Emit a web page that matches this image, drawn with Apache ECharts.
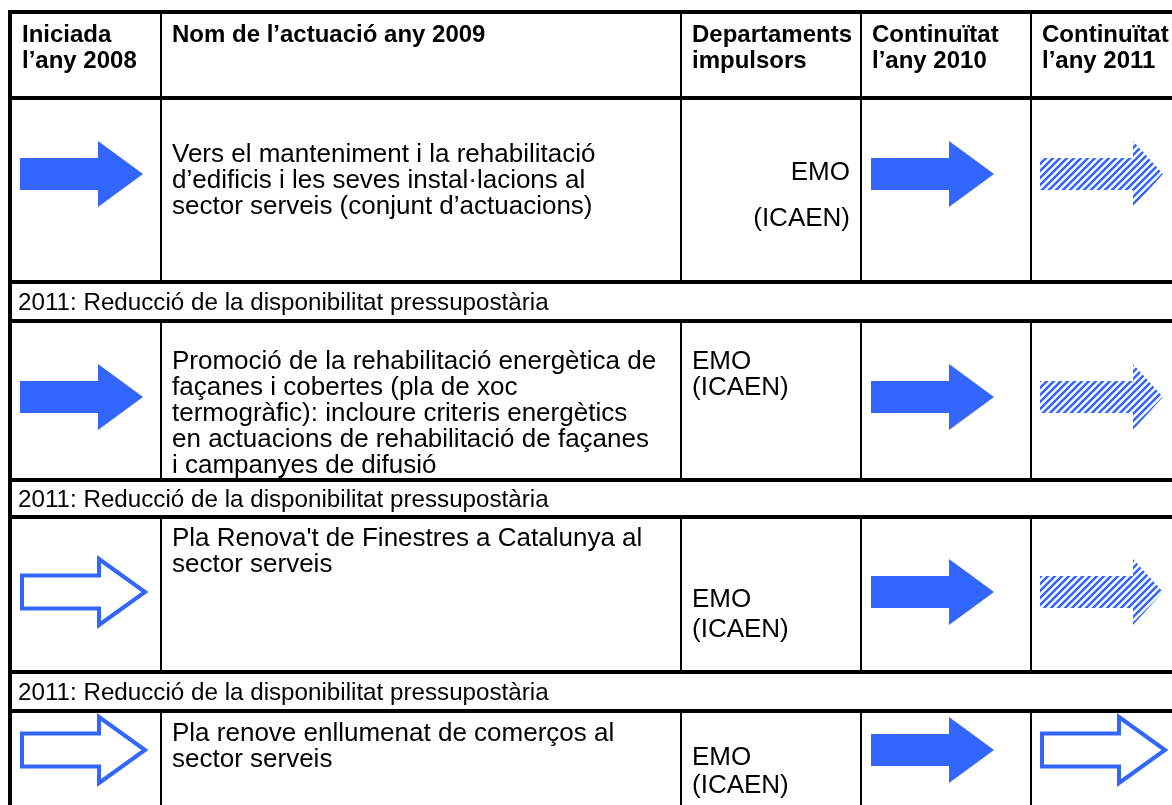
<!DOCTYPE html>
<html><head><meta charset="utf-8">
<script src="https://cdn.jsdelivr.net/npm/echarts@6/dist/echarts.min.js"></script>
<style>html,body{margin:0;padding:0;background:#fff}#c{width:1172px;height:805px}</style>
</head><body><div id="c"></div>
<script>
// ---------------- DATA ----------------
const headers = ['Iniciada\nl’any 2008', 'Nom de l’actuació any 2009', 'Departaments\nimpulsors', 'Continuïtat\nl’any 2010', 'Continuïtat\nl’any 2011'];
const actions = [
  'Vers el manteniment i la rehabilitació\nd’edificis i les seves instal·lacions al\nsector serveis (conjunt d’actuacions)',
  'Promoció de la rehabilitació energètica de\nfaçanes i cobertes (pla de xoc\ntermogràfic): incloure criteris energètics\nen actuacions de rehabilitació de façanes\ni campanyes de difusió',
  'Pla Renova\'t de Finestres a Catalunya al\nsector serveis',
  'Pla renove enllumenat de comerços al\nsector serveis'
];
const departments = [['EMO', '(ICAEN)'], ['EMO', '(ICAEN)'], ['EMO', '(ICAEN)'], ['EMO', '(ICAEN)']];
const status2008 = ['solid', 'solid', 'outline', 'outline'];
const status2010 = ['solid', 'solid', 'solid', 'solid'];
const status2011 = ['hatched', 'hatched', 'hatched', 'outline'];
const notes = [
  '2011: Reducció de la disponibilitat pressupostària',
  '2011: Reducció de la disponibilitat pressupostària',
  '2011: Reducció de la disponibilitat pressupostària'
];

// ---------------- LAYOUT ----------------
const colEdges = [10, 161, 681, 861, 1031, 1260];
const headerBox = [12, 98];
const rowBoxes = [[98, 282], [321, 480], [517, 672], [711, 900]];
const noteBoxes = [[282, 321], [480, 517], [672, 711]];
const nameFirstLine = [155, 362, 539, 734];
const deptLines = [[173, 219], [362, 388], [600, 630], [758, 786]];
const deptAlignRight = [true, false, false, false];
const arrowCY = [174, 397, 592, 750];
const arrowX0 = [20, 871, 1040];
const FONT = '"Liberation Sans", Arial, Helvetica, sans-serif';
const BLUE = '#3366ff';
const LH = 26;

// ---------------- BUILD ----------------
const lines = [];
lines.push([8, 12, 1260, 12, 4]);      // top border
lines.push([10, 10, 10, 900, 4]);      // left border
[headerBox[1]].concat(rowBoxes.map(r => r[1]).slice(0, 3)).concat(noteBoxes.map(n => n[1])).forEach(y => lines.push([10, y, 1260, y, 4]));
const vBoxes = [headerBox].concat(rowBoxes);
vBoxes.forEach(b => { for (let c = 1; c < colEdges.length - 1; c++) lines.push([colEdges[c], b[0], colEdges[c], b[1], 2]); });

const texts = [];
headers.forEach((h, c) => texts.push({x: colEdges[c] + (c === 0 ? 12 : 11), y: 35 - LH / 2, text: h, font: 'bold 24px ' + FONT, align: 'left'}));
actions.forEach((a, r) => texts.push({x: colEdges[1] + 11, y: nameFirstLine[r] - LH / 2, text: a, font: '26px ' + FONT, align: 'left'}));
departments.forEach((d, r) => {
  d.forEach((t, k) => texts.push({
    x: deptAlignRight[r] ? colEdges[3] - 11 : colEdges[2] + 11,
    y: deptLines[r][k] - LH / 2, text: t, font: '26px ' + FONT, align: deptAlignRight[r] ? 'right' : 'left'
  }));
});
notes.forEach((n, i) => texts.push({x: 18, y: (noteBoxes[i][0] + noteBoxes[i][1]) / 2 + 2 - LH / 2, text: n, font: '24.2px ' + FONT, align: 'left'}));

const arrows = [];
[status2008, status2010, status2011].forEach((st, c) => st.forEach((s, r) => arrows.push({x0: arrowX0[c], cy: arrowCY[r], kind: s})));

function stripeCanvas() {
  const s = 7, cv = document.createElement('canvas');
  cv.width = s; cv.height = s;
  const g = cv.getContext('2d');
  g.fillStyle = '#fff'; g.fillRect(0, 0, s, s);
  g.strokeStyle = BLUE; g.lineWidth = 2.6;
  g.beginPath();
  g.moveTo(0, s); g.lineTo(s, 0);
  g.moveTo(-s / 2, s / 2); g.lineTo(s / 2, -s / 2);
  g.moveTo(s / 2, s * 1.5); g.lineTo(s * 1.5, s / 2);
  g.stroke();
  return cv;
}
const stripe = stripeCanvas();

const chart = echarts.init(document.getElementById('c'), null, {renderer: 'canvas'});
chart.setOption({
  animation: false,
  grid: {left: 0, right: 0, top: 0, bottom: 0},
  xAxis: {type: 'value', min: 0, max: 1172, show: false},
  yAxis: {type: 'value', min: 0, max: 805, inverse: true, show: false},
  series: [
    {
      type: 'custom', name: 'arrows', silent: true, clip: false,
      data: arrows.map((a, i) => [a.x0, a.cy, i]),
      renderItem: (p, api) => {
        const a = arrows[api.value(2)];
        const hatched = a.kind === 'hatched';
        const outline = a.kind === 'outline';
        const off = outline ? 2 : 0;
        const len = 123;
        const head = hatched ? 93 : (outline ? 77 : 78);
        const sh = outline ? 16.5 : 16, hh = 33;
        const pts = [[off, -sh], [off + head, -sh], [off + head, -hh], [off + len, 0], [off + head, hh], [off + head, sh], [off, sh]]
          .map(q => api.coord([a.x0 + q[0], a.cy + q[1]]));
        let style;
        if (outline) style = {fill: 'none', stroke: BLUE, lineWidth: 4, lineJoin: 'miter'};
        else if (hatched) style = {fill: {image: stripe, repeat: 'repeat'}, stroke: null};
        else style = {fill: BLUE, stroke: null};
        return {type: 'polygon', shape: {points: pts}, style: style};
      }
    },
    {
      type: 'custom', name: 'borders', silent: true, clip: false,
      data: lines,
      renderItem: (p, api) => {
        const a = api.coord([api.value(0), api.value(1)]);
        const b = api.coord([api.value(2), api.value(3)]);
        return {type: 'line', shape: {x1: a[0], y1: a[1], x2: b[0], y2: b[1]}, style: {stroke: '#000', lineWidth: api.value(4)}};
      }
    },
    {
      type: 'custom', name: 'texts', silent: true, clip: false,
      data: texts.map((t, i) => [t.x, t.y, i]),
      renderItem: (p, api) => {
        const t = texts[api.value(2)];
        const q = api.coord([api.value(0), api.value(1)]);
        return {type: 'text', x: q[0], y: q[1], style: {text: t.text, font: t.font, fill: '#000', align: t.align, verticalAlign: 'top', lineHeight: LH}};
      }
    }
  ]
});
</script>
</body></html>
